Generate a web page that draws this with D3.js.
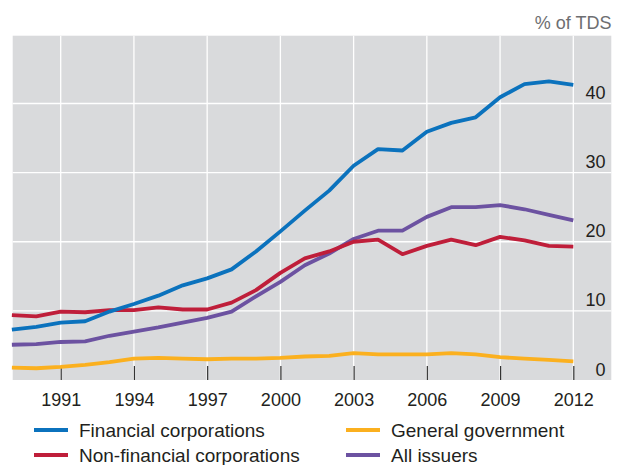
<!DOCTYPE html>
<html>
<head>
<meta charset="utf-8">
<script src="https://cdn.jsdelivr.net/npm/d3@7"></script>
<style>
  html, body { margin: 0; padding: 0; background: #fff; }
  svg { display: block; }
  text { font-family: "Liberation Sans", Arial, Helvetica, sans-serif; }
</style>
</head>
<body>
<svg id="chart" width="618" height="465"></svg>
<script>
const years = d3.range(1989, 2013);
const tickYears = [1991, 1994, 1997, 2000, 2003, 2006, 2009, 2012];
const yTicks = [0, 10, 20, 30, 40];
const seriesNames = ["Financial corporations", "Non-financial corporations", "General government", "All issuers"];
const seriesColors = ["#0b72bd", "#bf1e3a", "#fbb01f", "#6c52a1"];

const financial = [7.3, 7.7, 8.3, 8.5, 9.9, 11.0, 12.2, 13.7, 14.7, 16.0, 18.6, 21.5, 24.5, 27.4, 31.0, 33.4, 33.2, 35.9, 37.2, 38.0, 40.9, 42.8, 43.2, 42.7];
const nonFinancial = [9.4, 9.2, 9.9, 9.8, 10.1, 10.1, 10.5, 10.2, 10.2, 11.2, 13.0, 15.5, 17.6, 18.6, 20.0, 20.3, 18.2, 19.4, 20.3, 19.5, 20.7, 20.2, 19.4, 19.3];
const generalGov = [1.8, 1.7, 1.9, 2.2, 2.6, 3.1, 3.2, 3.1, 3.0, 3.1, 3.1, 3.2, 3.4, 3.5, 3.9, 3.7, 3.7, 3.7, 3.9, 3.7, 3.3, 3.1, 2.9, 2.7];
const allIssuers = [5.1, 5.2, 5.5, 5.6, 6.4, 7.0, 7.6, 8.3, 9.0, 9.9, 12.1, 14.2, 16.6, 18.3, 20.4, 21.6, 21.6, 23.6, 25.0, 25.0, 25.3, 24.7, 23.9, 23.1];

const seriesValues = [financial, nonFinancial, generalGov, allIssuers];

const svg = d3.select("#chart");
const pLeft = 12.7, pRight = 611.3, pTop = 35.7, pBottom = 380;

const x = d3.scaleLinear().domain([1991, 2012]).range([60.7, 573.3]);
const y = d3.scaleLinear().domain([0, 40]).range([380, 103.5]);

// background
svg.append("rect")
  .attr("x", pLeft).attr("y", pTop)
  .attr("width", pRight - pLeft).attr("height", pBottom - pTop)
  .attr("fill", "#d9dadc");

// horizontal gridlines
svg.append("g").selectAll("line")
  .data(yTicks.filter(d => d > 0))
  .join("line")
  .attr("x1", pLeft).attr("x2", pRight)
  .attr("y1", d => y(d)).attr("y2", d => y(d))
  .attr("stroke", "#ffffff").attr("stroke-width", 1.3);

// vertical gridlines
svg.append("g").selectAll("line")
  .data(tickYears)
  .join("line")
  .attr("x1", d => x(d)).attr("x2", d => x(d))
  .attr("y1", pTop).attr("y2", pBottom)
  .attr("stroke", "#ffffff").attr("stroke-width", 1.3);

// x axis ticks (inward) and labels
const xAxis = d3.axisBottom(x).tickValues(tickYears).tickFormat(d3.format("d")).tickSizeInner(-14).tickSizeOuter(0).tickPadding(0);
const gx = svg.append("g").attr("transform", `translate(0,${pBottom})`).call(xAxis);
gx.select(".domain").remove();
gx.selectAll(".tick line").attr("stroke", "#333333").attr("stroke-width", 1.2);
gx.selectAll(".tick text")
  .attr("y", 26).attr("dy", null)
  .attr("fill", "#231f20")
  .style("font-size", "18px");

// y axis labels on the right, above gridlines
const yAxis = d3.axisRight(y).tickValues(yTicks).tickSize(0).tickPadding(0);
const gy = svg.append("g").attr("transform", `translate(605.5,0)`).call(yAxis);
gy.select(".domain").remove();
gy.selectAll(".tick text")
  .attr("x", 0).attr("dy", "-5px")
  .attr("text-anchor", "end")
  .attr("fill", "#231f20")
  .style("font-size", "18px");

// unit label
svg.append("text")
  .attr("x", 611.5).attr("y", 29)
  .attr("text-anchor", "end")
  .attr("fill", "#6d6e71")
  .style("font-size", "18px")
  .text("% of TDS");

// lines
const line = d3.line().x((d, i) => x(years[i])).y(d => y(d));
const drawOrder = [2, 3, 1, 0];
svg.append("g").selectAll("path")
  .data(drawOrder)
  .join("path")
  .attr("d", k => line(seriesValues[k]))
  .attr("fill", "none")
  .attr("stroke", k => seriesColors[k])
  .attr("stroke-width", 3.8)
  .attr("stroke-linejoin", "round");

// legend
const legendPos = [
  {lx: 34, ly: 430},
  {lx: 34, ly: 455},
  {lx: 346, ly: 430},
  {lx: 346, ly: 455}
];
const lg = svg.append("g").selectAll("g")
  .data(seriesNames.map((n, i) => ({n, i})))
  .join("g")
  .attr("transform", d => `translate(${legendPos[d.i].lx},${legendPos[d.i].ly})`);
lg.append("line")
  .attr("x1", 0).attr("x2", 34)
  .attr("stroke", d => seriesColors[d.i])
  .attr("stroke-width", 3.8);
lg.append("text")
  .attr("x", 45).attr("y", 6.5)
  .attr("fill", "#231f20")
  .style("font-size", "19px")
  .text(d => d.n);
</script>
</body>
</html>
